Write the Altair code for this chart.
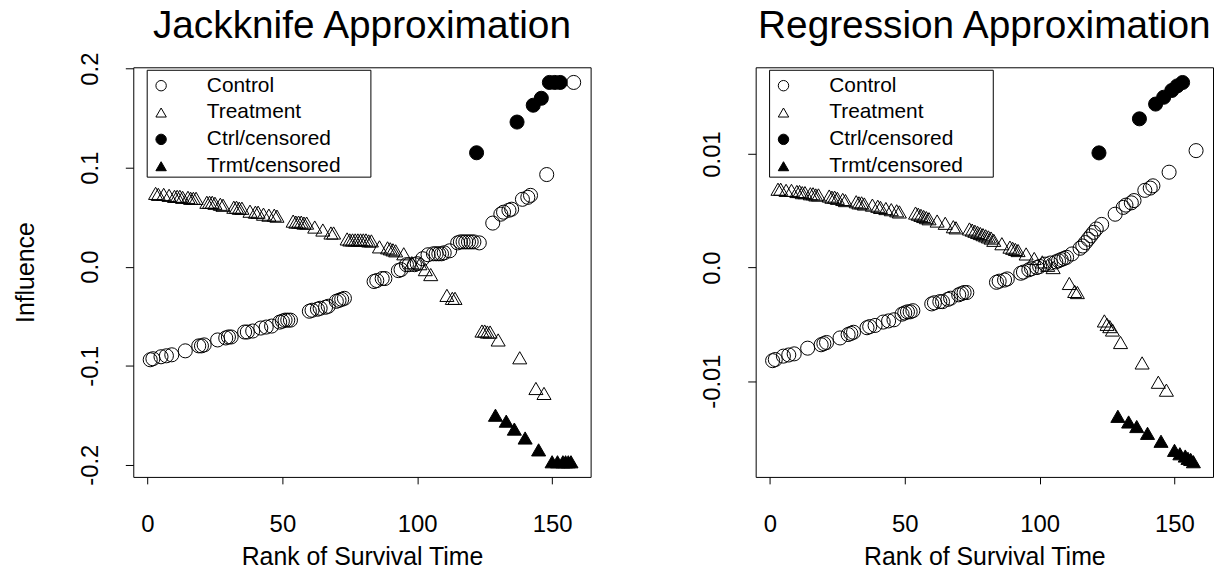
import altair as alt
import pandas as pd

FONT = "Liberation Sans"

ranks = list(range(1, 159))

groups = [
    "C", "C", "T", "T", "C", "T", "C", "T", "C", "T",
    "T", "T", "T", "C", "T", "T", "T", "T", "C", "C",
    "C", "T", "T", "T", "T", "C", "T", "T", "C", "C",
    "C", "T", "T", "T", "T", "C", "C", "T", "C", "T",
    "T", "C", "T", "C", "T", "C", "T", "T", "C", "C",
    "C", "C", "C", "T", "T", "T", "T", "T", "T", "C",
    "C", "T", "C", "C", "T", "C", "C", "T", "T", "C",
    "C", "C", "C", "T", "T", "T", "T", "T", "T", "T",
    "T", "T", "T", "C", "C", "T", "C", "C", "T", "T",
    "T", "T", "C", "C", "T", "C", "C", "T", "C", "C",
    "T", "C", "T", "C", "T", "C", "C", "C", "C", "C",
    "T", "C", "T", "T", "C", "C", "C", "C", "C", "C",
    "C", "CC", "C", "T", "T", "T", "T", "C", "TC", "T",
    "C", "C", "TC", "C", "C", "TC", "CC", "T", "C", "TC",
    "C", "C", "CC", "T", "TC", "CC", "T", "C", "CC", "TC",
    "CC", "TC", "CC", "TC", "TC", "TC", "TC", "C",
]

jackknife = [
    -0.094, -0.093, 0.074, 0.073, -0.091, 0.073, -0.090, 0.072, -0.089, 0.071,
    0.071, 0.071, 0.070, -0.085, 0.070, 0.069, 0.069, 0.069, -0.080, -0.080,
    -0.079, 0.065, 0.065, 0.065, 0.064, -0.074, 0.063, 0.062, -0.072, -0.071,
    -0.071, 0.060, 0.060, 0.059, 0.059, -0.066, -0.066, 0.056, -0.065, 0.055,
    0.055, -0.062, 0.053, -0.061, 0.052, -0.060, 0.052, 0.051, -0.056, -0.055,
    -0.054, -0.054, -0.054, 0.046, 0.045, 0.045, 0.045, 0.044, 0.044, -0.045,
    -0.044, 0.040, -0.043, -0.042, 0.037, -0.041, -0.040, 0.034, 0.034, -0.035,
    -0.034, -0.033, -0.032, 0.028, 0.027, 0.027, 0.027, 0.027, 0.027, 0.027,
    0.027, 0.026, 0.026, -0.015, -0.014, 0.020, -0.012, -0.012, 0.019, 0.018,
    0.017, 0.016, -0.004, -0.003, 0.013, 0.002, 0.002, 0.004, 0.002, 0.003,
    0.003, 0.008, -0.003, 0.012, -0.008, 0.013, 0.013, 0.013, 0.013, 0.014,
    -0.029, 0.016, -0.032, -0.032, 0.024, 0.025, 0.025, 0.025, 0.025, 0.025,
    0.025, 0.115, 0.024, -0.065, -0.065, -0.066, -0.066, 0.044, -0.150, -0.074,
    0.053, 0.055, -0.156, 0.057, 0.058, -0.164, 0.146, -0.092, 0.068, -0.173,
    0.070, 0.072, 0.163, -0.123, -0.185, 0.170, -0.128, 0.093, 0.186, -0.197,
    0.186, -0.197, 0.186, -0.197, -0.197, -0.197, -0.197, 0.186,
]

regression = [
    -0.0082, -0.0081, 0.0069, 0.0069, -0.0078, 0.0068, -0.0077, 0.0068, -0.0076, 0.0067,
    0.0067, 0.0066, 0.0066, -0.0071, 0.0065, 0.0065, 0.0064, 0.0064, -0.0068, -0.0067,
    -0.0066, 0.0063, 0.0062, 0.0062, 0.0061, -0.0062, 0.0060, 0.0059, -0.0059, -0.0058,
    -0.0057, 0.0058, 0.0057, 0.0057, 0.0056, -0.0053, -0.0052, 0.0055, -0.0051, 0.0054,
    0.0053, -0.0048, 0.0052, -0.0047, 0.0051, -0.0046, 0.0050, 0.0049, -0.0041, -0.0040,
    -0.0039, -0.0039, -0.0038, 0.0048, 0.0047, 0.0046, 0.0045, 0.0044, 0.0043, -0.0032,
    -0.0031, 0.0041, -0.0030, -0.0030, 0.0039, -0.0028, -0.0027, 0.0036, 0.0035, -0.0024,
    -0.0023, -0.0022, -0.0022, 0.0034, 0.0033, 0.0032, 0.0031, 0.0030, 0.0029, 0.0028,
    0.0027, 0.0026, 0.0024, -0.0013, -0.0012, 0.0021, -0.0011, -0.0010, 0.0018, 0.0017,
    0.0016, 0.0015, -0.0005, -0.0004, 0.0012, -0.0002, -0.0001, 0.0008, 0.0000, 0.0001,
    0.0005, 0.0003, 0.0002, 0.0004, 0.0000, 0.0005, 0.0006, 0.0007, 0.0008, 0.0009,
    -0.0014, 0.0012, -0.0021, -0.0022, 0.0017, 0.0019, 0.0022, 0.0025, 0.0028, 0.0031,
    0.0034, 0.0101, 0.0038, -0.0047, -0.0050, -0.0052, -0.0055, 0.0047, -0.0131, -0.0066,
    0.0053, 0.0055, -0.0136, 0.0057, 0.0059, -0.0140, 0.0131, -0.0084, 0.0068, -0.0146,
    0.0070, 0.0072, 0.0144, -0.0101, -0.0153, 0.0150, -0.0108, 0.0084, 0.0156, -0.0161,
    0.0160, -0.0164, 0.0163, -0.0166, -0.0168, -0.0169, -0.0171, 0.0103,
]

group_names = {"C": "Control", "T": "Treatment", "CC": "Ctrl/censored", "TC": "Trmt/censored"}
categories = ["Control", "Treatment", "Ctrl/censored", "Trmt/censored"]
shapes = ["circle", "triangle-up", "circle", "triangle-up"]
fills = ["transparent", "transparent", "black", "black"]
strokes = ["black", "black", "black", "black"]

x_ticks = [0, 50, 100, 150]
jack_ticks = [-0.2, -0.1, 0.0, 0.1, 0.2]
reg_ticks = [-0.01, 0.0, 0.01]

df = pd.DataFrame({
    "rank": ranks,
    "group": [group_names[g] for g in groups],
    "jack": jackknife,
    "reg": regression,
})

W, H = 460, 412


def panel(field, title, ydomain, yticks, ytitle):
    legend = alt.Legend(
        title=None, orient="top-left", offset=8, padding=0,
        symbolOffset=9.5,
        labelFont=FONT, labelFontSize=21, labelColor="black",
        symbolSize=110, symbolStrokeColor="black", symbolStrokeWidth=1,
        rowPadding=5, labelOffset=35.5,
    )
    yaxis = alt.Axis(
        title=ytitle if ytitle else "",
        values=yticks, domain=False, grid=False, tickSize=8, tickColor="black",
        labelAngle=270, labelAlign="center", labelBaseline="alphabetic",
        labelPadding=28, labelFont=FONT, labelFontSize=24, labelColor="black",
        labelExpr="datum.value == 0 ? '0.0' : '' + datum.value",
        titleFont=FONT, titleFontSize=25, titleFontWeight="normal",
        titleColor="black", titlePadding=40,
    )

    points = alt.Chart(df).mark_point(
        filled=False, strokeWidth=1, opacity=1, size=200
    ).encode(
        x=alt.X("rank:Q",
                scale=alt.Scale(domain=[-5.28, 164.28], nice=False, zero=False),
                axis=alt.Axis(values=x_ticks, title="Rank of Survival Time",
                              domain=False, grid=False, tickSize=7,
                              tickColor="black", labelFont=FONT,
                              labelFontSize=24, labelColor="black",
                              labelPadding=29, titleFont=FONT,
                              titleFontSize=25, titleFontWeight="normal",
                              titleColor="black", titlePadding=8)),
        y=alt.Y(f"{field}:Q",
                scale=alt.Scale(domain=ydomain, nice=False, zero=False),
                axis=yaxis),
        shape=alt.Shape("group:N",
                        scale=alt.Scale(domain=categories, range=shapes),
                        legend=legend),
        fill=alt.Fill("group:N",
                      scale=alt.Scale(domain=categories, range=fills),
                      legend=legend),
        stroke=alt.Stroke("group:N",
                          scale=alt.Scale(domain=categories, range=strokes),
                          legend=legend),
    )

    box = alt.Chart(alt.Data(values=[{}])).mark_rect(
        fill="transparent", stroke="black", strokeWidth=1
    ).encode(
        x=alt.value(14), x2=alt.value(239),
        y=alt.value(3), y2=alt.value(110.5),
    )

    heading = alt.Chart(alt.Data(values=[{}])).mark_text(
        font=FONT, fontSize=39, color="black", align="center",
        baseline="alphabetic",
    ).encode(
        x=alt.value(W / 2), y=alt.value(-29.5), text=alt.value(title),
    )

    return alt.layer(points, box, heading).properties(width=W, height=H)


left = panel("jack", "Jackknife Approximation", [-0.2123, 0.2013], jack_ticks, "Influence")
right = panel("reg", "Regression Approximation", [-0.01844, 0.01764], reg_ticks, None)

chart = alt.hconcat(left, right, spacing=109).resolve_scale(
    x="independent", y="independent", shape="independent",
    fill="independent", stroke="independent",
).resolve_legend(
    shape="independent", fill="independent", stroke="independent",
).configure_view(
    stroke="black", strokeWidth=1
).properties(
    padding={"left": 5, "top": -3, "right": 0, "bottom": 0},
    background="white",
)

chart.save("out.html", embed_options={"renderer": "svg", "actions": False})
